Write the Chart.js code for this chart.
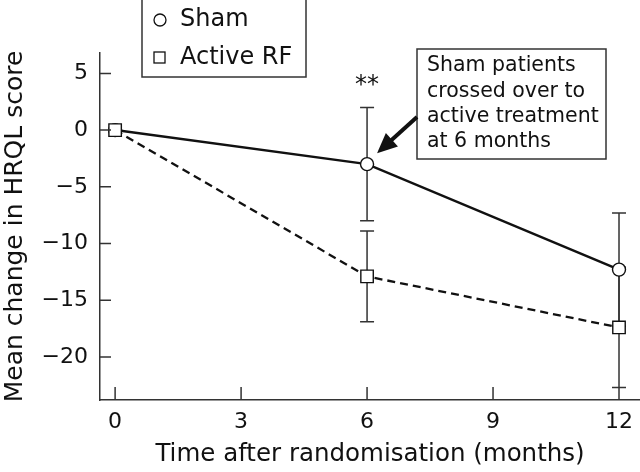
<!DOCTYPE html>
<html>
<head>
<meta charset="utf-8">
<script src="https://cdn.jsdelivr.net/npm/chart.js@4.4.0/dist/chart.umd.min.js"></script>
<style>
  body { margin: 0; background: #fff; }
  canvas { display: block; }
</style>
</head>
<body>
<canvas id="chart" width="640" height="472"></canvas>
<script>
// values
const months = [0, 6, 12];
const shamMean = [0, -3, -12.3];
const shamErr = [0, 5, 5];
const activeMean = [0, -12.9, -17.4];
const activeErr = [0, 4, 5.3];
const xTicks = [0, 3, 6, 9, 12];
const yTicks = [-20, -15, -10, -5, 0, 5];
const legendLabels = ["Sham", "Active RF"];
const noteLines = ["Sham patients", "crossed over to", "active treatment", "at 6 months"];
const starText = "**";

const FONT = "'DejaVu Sans', sans-serif";
const INK = "#111";

function toPoints(means) {
    return months.map((m, i) => ({ x: m, y: means[i] }));
}

// error bars, ticks, legend box and the note
const extras = {
    id: "extras",
    beforeDatasetsDraw(chart) {
        const ctx = chart.ctx;
        const xs = chart.scales.x, ys = chart.scales.y;
        ctx.save();
        ctx.strokeStyle = "#333";
        ctx.lineWidth = 1.5;
        [[shamMean, shamErr], [activeMean, activeErr]].forEach(([mean, err]) => {
            months.forEach((m, i) => {
                if (!err[i]) return;
                const x = xs.getPixelForValue(m);
                const top = ys.getPixelForValue(mean[i] + err[i]);
                const bot = ys.getPixelForValue(mean[i] - err[i]);
                ctx.beginPath();
                ctx.moveTo(x, top); ctx.lineTo(x, bot);
                ctx.moveTo(x - 7, top); ctx.lineTo(x + 7, top);
                ctx.moveTo(x - 7, bot); ctx.lineTo(x + 7, bot);
                ctx.stroke();
            });
        });
        ctx.restore();
    },
    afterDraw(chart) {
        const ctx = chart.ctx;
        const xs = chart.scales.x, ys = chart.scales.y;
        const area = chart.chartArea;
        ctx.save();
        // inward tick marks
        ctx.strokeStyle = "#333";
        ctx.lineWidth = 1.5;
        ctx.beginPath();
        yTicks.forEach(v => {
            const y = ys.getPixelForValue(v);
            ctx.moveTo(area.left, y); ctx.lineTo(area.left + 11, y);
        });
        xTicks.forEach(v => {
            const x = xs.getPixelForValue(v);
            ctx.moveTo(x, area.bottom); ctx.lineTo(x, area.bottom - 13);
        });
        ctx.stroke();

        // significance stars above the 6-month sham bar
        ctx.fillStyle = INK;
        ctx.font = "24px " + FONT;
        ctx.textAlign = "center";
        ctx.textBaseline = "middle";
        const sx = xs.getPixelForValue(6);
        const sy = ys.getPixelForValue(shamMean[1] + shamErr[1]) - 22;
        ctx.fillText(starText, sx, sy);

        // legend box
        ctx.lineWidth = 1.5;
        ctx.strokeStyle = "#333";
        ctx.fillStyle = "#fff";
        ctx.fillRect(142, -2, 164, 79);
        ctx.strokeRect(142, -2, 164, 79);
        ctx.lineWidth = 1.3;
        ctx.strokeStyle = INK;
        ctx.beginPath();
        ctx.arc(160, 20, 6, 0, Math.PI * 2);
        ctx.stroke();
        ctx.strokeRect(154, 52, 11, 11);
        ctx.fillStyle = INK;
        ctx.font = "24px " + FONT;
        ctx.textAlign = "left";
        ctx.fillText(legendLabels[0], 180, 20);
        ctx.fillText(legendLabels[1], 180, 58);

        // note box with arrow
        ctx.lineWidth = 1.5;
        ctx.strokeStyle = "#333";
        ctx.strokeRect(417, 49, 189, 110);
        ctx.font = "20.5px " + FONT;
        noteLines.forEach((t, i) => ctx.fillText(t, 427, 66 + i * 25.3));
        const tipX = sx + 10, tipY = ys.getPixelForValue(shamMean[1]) - 11;
        const fromX = 417, fromY = 117;
        const ang = Math.atan2(tipY - fromY, tipX - fromX);
        const c = Math.cos(ang), s = Math.sin(ang);
        ctx.strokeStyle = INK;
        ctx.lineWidth = 4;
        ctx.beginPath();
        ctx.moveTo(fromX, fromY);
        ctx.lineTo(tipX - 14 * c, tipY - 14 * s);
        ctx.stroke();
        ctx.beginPath();
        ctx.moveTo(tipX, tipY);
        ctx.lineTo(tipX - 20 * c + 9 * s, tipY - 20 * s - 9 * c);
        ctx.lineTo(tipX - 20 * c - 9 * s, tipY - 20 * s + 9 * c);
        ctx.closePath();
        ctx.fill();
        ctx.restore();
    }
};

const ctx = document.getElementById("chart").getContext("2d");
new Chart(ctx, {
    type: "line",
    data: {
        datasets: [{
            label: legendLabels[0],
            data: toPoints(shamMean),
            borderColor: INK,
            borderWidth: 2.5,
            pointStyle: "circle",
            pointRadius: 6.5,
            pointBackgroundColor: "#fff",
            pointBorderColor: INK,
            pointBorderWidth: 1.4,
            order: 1
        }, {
            label: legendLabels[1],
            data: toPoints(activeMean),
            borderColor: INK,
            borderWidth: 2.3,
            borderDash: [8, 5],
            pointStyle: "rect",
            pointRadius: 8.8,
            pointBackgroundColor: "#fff",
            pointBorderColor: INK,
            pointBorderWidth: 1.4,
            order: 0
        }]
    },
    options: {
        responsive: false,
        animation: false,
        layout: { autoPadding: false, padding: { top: 53, left: 0, right: 0, bottom: 0 } },
        plugins: { legend: { display: false }, tooltip: { enabled: false } },
        scales: {
            x: {
                type: "linear",
                min: -0.36,
                max: 12.5,
                afterFit: s => { s.height = 72; s.paddingLeft = 0; s.paddingRight = 0; },
                afterBuildTicks: s => { s.ticks = xTicks.map(v => ({ value: v })); },
                grid: { display: false, drawTicks: false },
                border: { display: true, color: "#333", width: 1.5 },
                ticks: { color: INK, padding: 9, font: { family: FONT, size: 22 } },
                title: {
                    display: true,
                    text: "Time after randomisation (months)",
                    color: INK,
                    font: { family: FONT, size: 24.5 },
                    padding: { top: 0, bottom: 3 }
                }
            },
            y: {
                min: -23.8,
                max: 6.8,
                afterFit: s => { s.width = 100; s.paddingTop = 0; s.paddingBottom = 0; },
                afterBuildTicks: s => { s.ticks = yTicks.map(v => ({ value: v })); },
                grid: { display: false, drawTicks: false },
                border: { display: true, color: "#333", width: 1.5 },
                ticks: {
                    color: INK, padding: 12, font: { family: FONT, size: 22 },
                    callback: v => (v < 0 ? "\u2212" + Math.abs(v) : String(v))
                },
                title: {
                    display: true,
                    text: "Mean change in HRQL score",
                    color: INK,
                    font: { family: FONT, size: 25 },
                    padding: { top: 0, bottom: 0 }
                }
            }
        }
    },
    plugins: [extras]
});
</script>
</body>
</html>
